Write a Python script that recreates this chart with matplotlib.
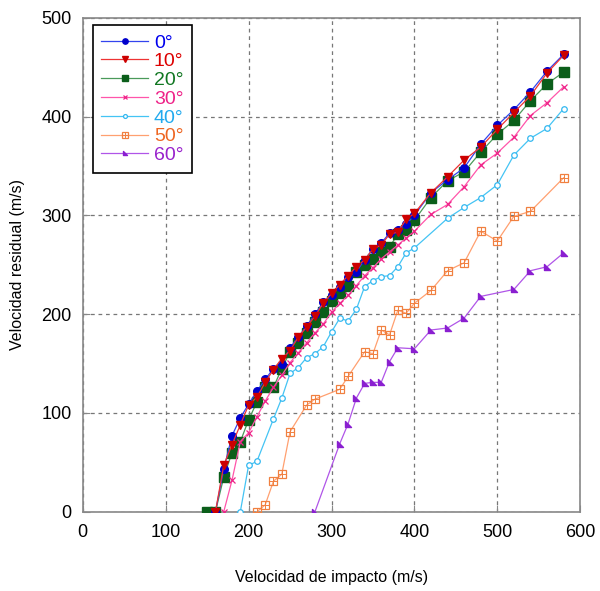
import numpy as np
import matplotlib
matplotlib.use("Agg")
import matplotlib.pyplot as plt
from matplotlib.path import Path

plt.rcParams['font.family'] = ['Liberation Sans', 'DejaVu Sans']

# Datos: velocidad de impacto -> velocidad residual (m/s)
v_0 = [160, 170, 180, 190, 200, 210, 220, 230, 240, 250, 260, 270, 280, 290, 300,
       310, 320, 330, 340, 350, 360, 370, 380, 390, 400, 420, 440, 460, 480, 500,
       520, 540, 560, 580]
r_0 = [0, 43, 77, 95, 109, 122, 134, 145, 150, 166, 177, 188, 200, 212, 219,
       228, 238, 243, 255, 266, 272, 282, 285, 291, 300, 323, 336, 348, 372, 391,
       407, 425, 446, 463]

v_10 = v_0
r_10 = [0, 47, 68, 88, 108, 116, 131, 144, 155, 163, 177, 187, 198, 211, 221,
        230, 239, 248, 255, 266, 270, 281, 283, 296, 302, 323, 339, 356, 369, 387,
        404, 421, 444, 462]

v_20 = [150] + v_0
r_20 = [0, 0, 35, 60, 71, 93, 111, 126, 126, 145, 162, 171, 181, 192, 202, 213,
        221, 229, 243, 250, 256, 263, 268, 281, 285, 295, 318, 335, 344, 364, 382,
        396, 416, 433, 445]

v_30 = v_0[1:]
r_30 = [0, 32, 71, 80, 96, 112, 126, 138, 151, 161, 171, 181, 190, 202,
        211, 219, 229, 239, 247, 256, 263, 270, 277, 284, 301, 311, 329, 351, 363,
        379, 401, 414, 430]

v_40 = [190, 200, 210, 230, 240, 250, 260, 270, 280, 290, 300, 310, 320, 330,
        340, 350, 360, 370, 380, 390, 400, 440, 460, 480, 500, 520, 540, 560, 580]
r_40 = [0, 47, 51, 94, 115, 140, 146, 156, 160, 167, 182, 196, 193, 205,
        228, 234, 238, 239, 248, 262, 267, 297, 308, 318, 331, 361, 378, 388, 408]

v_50 = [210, 220, 230, 240, 250, 270, 280, 310, 320, 340, 350, 360, 370, 380,
        390, 400, 420, 440, 460, 480, 500, 520, 540, 580]
r_50 = [0, 7, 31, 38, 81, 108, 114, 124, 137, 162, 160, 184, 179, 204,
        201, 211, 224, 244, 252, 284, 274, 299, 304, 338]

v_60 = [280, 310, 320, 330, 340, 350, 360, 370, 380, 400, 420, 440, 460, 480,
        520, 540, 560, 580]
r_60 = [0, 69, 89, 115, 130, 131, 131, 152, 166, 165, 184, 186, 196, 218,
        225, 244, 248, 262]

labels = ['0°', '10°', '20°', '30°', '40°', '50°', '60°']

# triangulo rectangulo para 60°
tri = Path([(-1, 1), (-1, -1), (1, -1), (-1, 1)],
           [Path.MOVETO, Path.LINETO, Path.LINETO, Path.CLOSEPOLY])

fig = plt.figure(figsize=(6, 5.91), dpi=100)
ax = fig.add_axes([0.138, 0.134, 0.829, 0.836])

ax.plot(v_0, r_0, color='#3344ee', lw=0.9, marker='o', ms=5.5,
        mfc='#0000cc', mec='#0000cc', label=labels[0], zorder=5)
ax.plot(v_10, r_10, color='#ee3333', lw=0.9, marker='v', ms=5.5,
        mfc='#cc0000', mec='#cc0000', label=labels[1], zorder=6)
ax.plot(v_20, r_20, color='#4a9a5a', lw=0.9, marker='s', ms=6.5,
        mfc='#0b5e1a', mec='#0b5e1a', label=labels[2], zorder=4)
ax.plot(v_30, r_30, color='#ff55aa', lw=0.9, marker='x', ms=5,
        mec='#ee2288', mew=0.9, label=labels[3], zorder=7)
ax.plot(v_40, r_40, color='#44c4f4', lw=0.9, marker='o', ms=4,
        mfc='white', mec='#33b8f0', mew=0.9, label=labels[4], zorder=3)
l50, = ax.plot(v_50, r_50, color='#ffa070', lw=0.9, marker='s', ms=6,
               mfc='none', mec='#f08040', mew=0.9, zorder=3)
p50, = ax.plot(v_50, r_50, ls='none', marker='+', ms=6, mec='#f08040',
               mew=0.7, zorder=3)
ax.plot(v_60, r_60, color='#b055e8', lw=0.9, marker=tri, ms=5,
        mfc='#8a1fd0', mec='#8a1fd0', label=labels[6], zorder=3)

ax.set_xlim(0, 600)
ax.set_ylim(0, 500)
ax.set_xticks(np.arange(0, 601, 100))
ax.set_yticks(np.arange(0, 501, 100))
ax.grid(True, color='#777777', ls=(0, (3, 3)), lw=0.9)
ax.tick_params(direction='in', length=5, color='#888888', labelsize=13)
ax.tick_params(axis='x', pad=9)
ax.tick_params(axis='y', pad=8)
for s in ax.spines.values():
    s.set_color('#888888')
    s.set_linewidth(1.2)

ax.set_xlabel('Velocidad de impacto (m/s)', fontsize=11.5, labelpad=21)
ax.set_ylabel('Velocidad residual (m/s)', fontsize=11.5, labelpad=12)

handles, labs = ax.get_legend_handles_labels()
handles.insert(5, (l50, p50))
labs.insert(5, labels[5])
leg = ax.legend(handles, labs, loc='upper left', bbox_to_anchor=(0.02, 0.985),
                fontsize=14, handlelength=2.4, handletextpad=0.3,
                labelspacing=0.06, borderpad=0.45, borderaxespad=0.0,
                markerscale=0.7, fancybox=False,
                framealpha=1, edgecolor='black')
leg.get_frame().set_linewidth(1.2)
text_colors = ['#0000ee', '#dd0000', '#117722', '#ee2288', '#22aaee', '#ee6622', '#9922cc']
for t, c in zip(leg.get_texts(), text_colors):
    t.set_color(c)

fig.savefig('out.png', dpi=100)
